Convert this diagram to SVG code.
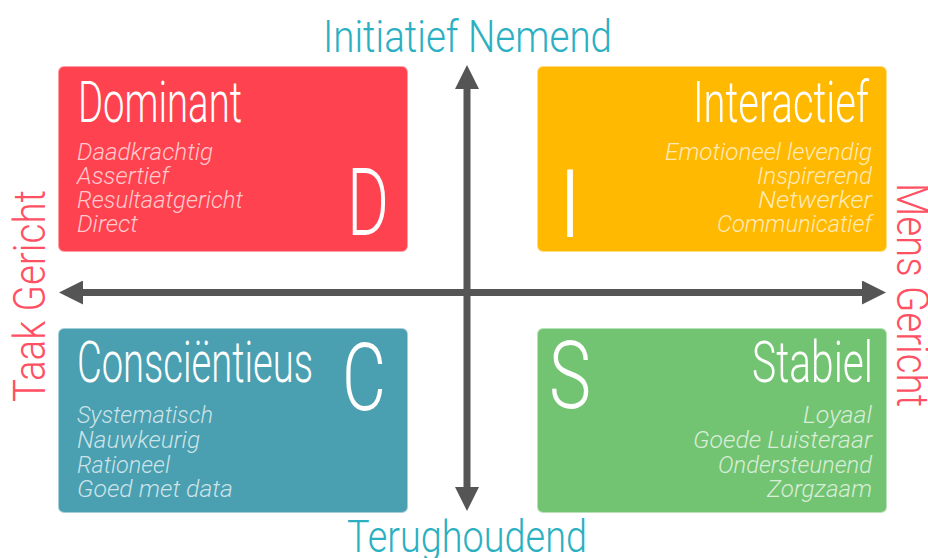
<svg xmlns="http://www.w3.org/2000/svg" width="928" height="558" viewBox="0 0 928 558">
<defs>
<style>
.box{stroke-width:2;stroke-opacity:0.5}
.title{font-family:Roboto,"Liberation Sans",sans-serif;font-weight:300;fill:#ffffff}
.big{font-family:Roboto,"Liberation Sans",sans-serif;font-weight:300;font-size:94px;fill:#ffffff}
.item{font-family:Roboto,"Liberation Sans",sans-serif;font-weight:300;font-style:italic;font-size:24px;fill:#ffffff;fill-opacity:0.72}
.axislbl{font-family:Roboto,"Liberation Sans",sans-serif;font-weight:300;font-size:44px}
.axis{stroke:#555555;stroke-width:7;fill:none}
</style>
<marker id="arr" viewBox="0 0 24 24" refX="0" refY="12" markerWidth="24" markerHeight="24" markerUnits="userSpaceOnUse" orient="auto-start-reverse">
<path d="M0,0 L24,12 L0,24 z" fill="#555555"/>
</marker>
</defs>
<rect width="928" height="558" fill="#ffffff"/>

<g id="node-D">
<rect class="box" x="59" y="67" width="348" height="184" rx="5" fill="#FF424F" stroke="#FF424F"/>
<text class="title" x="78" y="122" font-size="58" textLength="164" lengthAdjust="spacingAndGlyphs">Dominant</text>
<text class="item" x="77" y="160" textLength="136" lengthAdjust="spacingAndGlyphs">Daadkrachtig</text>
<text class="item" x="77" y="184" textLength="92" lengthAdjust="spacingAndGlyphs">Assertief</text>
<text class="item" x="77" y="208" textLength="166" lengthAdjust="spacingAndGlyphs">Resultaatgericht</text>
<text class="item" x="77" y="232" textLength="61" lengthAdjust="spacingAndGlyphs">Direct</text>
<text class="big" x="347" y="235" textLength="42" lengthAdjust="spacingAndGlyphs">D</text>
</g>

<g id="node-I">
<rect class="box" x="538" y="67" width="348" height="184" rx="5" fill="#FFB900" stroke="#FFB900"/>
<text class="title" x="869" y="122" font-size="58" text-anchor="end" textLength="176" lengthAdjust="spacingAndGlyphs">Interactief</text>
<text class="item" x="872" y="160" text-anchor="end" textLength="207" lengthAdjust="spacingAndGlyphs">Emotioneel levendig</text>
<text class="item" x="872" y="184" text-anchor="end" textLength="115" lengthAdjust="spacingAndGlyphs">Inspirerend</text>
<text class="item" x="872" y="208" text-anchor="end" textLength="114" lengthAdjust="spacingAndGlyphs">Netwerker</text>
<text class="item" x="872" y="232" text-anchor="end" textLength="155" lengthAdjust="spacingAndGlyphs">Communicatief</text>
<text class="big" x="570" y="237" text-anchor="middle">I</text>
</g>

<g id="node-C">
<rect class="box" x="59" y="329" width="348" height="183" rx="5" fill="#4A9FB1" stroke="#4A9FB1"/>
<text class="title" x="77" y="382" font-size="58" textLength="236" lengthAdjust="spacingAndGlyphs">Consciëntieus</text>
<text class="item" x="77" y="423" textLength="136" lengthAdjust="spacingAndGlyphs">Systematisch</text>
<text class="item" x="77" y="448" textLength="123" lengthAdjust="spacingAndGlyphs">Nauwkeurig</text>
<text class="item" x="77" y="473" textLength="93" lengthAdjust="spacingAndGlyphs">Rationeel</text>
<text class="item" x="77" y="497" textLength="156" lengthAdjust="spacingAndGlyphs">Goed met data</text>
<text class="big" x="342" y="410" textLength="44" lengthAdjust="spacingAndGlyphs">C</text>
</g>

<g id="node-S">
<rect class="box" x="538" y="329" width="348" height="183" rx="5" fill="#73C472" stroke="#73C472"/>
<text class="title" x="873" y="382" font-size="58" text-anchor="end" textLength="121" lengthAdjust="spacingAndGlyphs">Stabiel</text>
<text class="item" x="872" y="423" text-anchor="end" textLength="69" lengthAdjust="spacingAndGlyphs">Loyaal</text>
<text class="item" x="872" y="448" text-anchor="end" textLength="179" lengthAdjust="spacingAndGlyphs">Goede Luisteraar</text>
<text class="item" x="872" y="473" text-anchor="end" textLength="154" lengthAdjust="spacingAndGlyphs">Ondersteunend</text>
<text class="item" x="872" y="497" text-anchor="end" textLength="105" lengthAdjust="spacingAndGlyphs">Zorgzaam</text>
<text class="big" x="549" y="408" textLength="42" lengthAdjust="spacingAndGlyphs">S</text>
</g>

<g id="connectors">
<line class="axis" x1="467" y1="89" x2="467" y2="487" marker-start="url(#arr)" marker-end="url(#arr)"/>
<line class="axis" x1="83" y1="292.5" x2="862" y2="292.5" marker-start="url(#arr)" marker-end="url(#arr)"/>
</g>

<g id="labels">
<text class="axislbl" x="323" y="52" fill="#2BB0C2" textLength="289" lengthAdjust="spacingAndGlyphs">Initiatief Nemend</text>
<text class="axislbl" x="347" y="552" font-size="43" fill="#2BB0C2" textLength="240" lengthAdjust="spacingAndGlyphs">Terughoudend</text>
<text class="axislbl" transform="translate(45,402) rotate(-90)" x="0" y="0" font-size="42" fill="#FF5064" textLength="212" lengthAdjust="spacingAndGlyphs">Taak Gericht</text>
<text class="axislbl" transform="translate(897,183) rotate(90)" x="0" y="0" font-size="38" fill="#FF5064" textLength="224" lengthAdjust="spacingAndGlyphs">Mens Gericht</text>
</g>
</svg>
